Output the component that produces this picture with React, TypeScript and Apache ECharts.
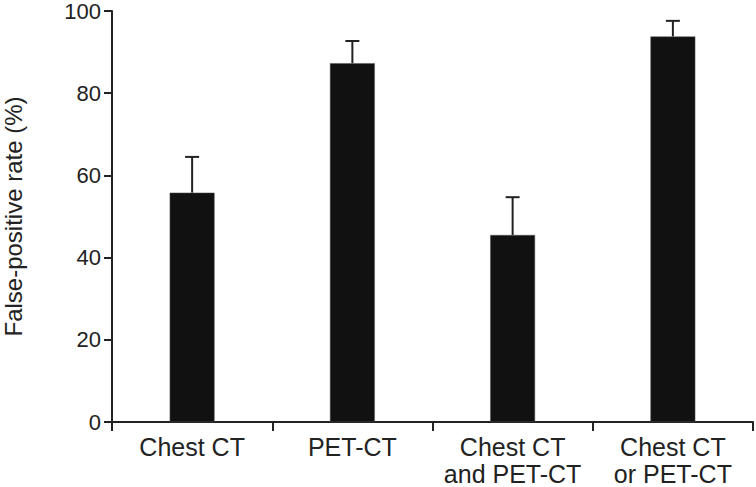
import React, { useEffect, useRef } from "react";
import * as echarts from "echarts";

const categories = ["Chest CT", "PET-CT", "Chest CT\nand PET-CT", "Chest CT\nor PET-CT"];
const rates = [55.8, 87.3, 45.5, 93.8];
const errorTops = [64.5, 92.7, 54.7, 97.6];
const yTicks = [0, 20, 40, 60, 80, 100];

export default function App() {
  const ref = useRef<HTMLDivElement>(null);
  useEffect(() => {
    if (!ref.current) return;
    const chart = echarts.init(ref.current, null, { renderer: "svg" });
    const font = "Liberation Sans, Arial, Helvetica, sans-serif";
    chart.setOption({
      animation: false,
      backgroundColor: "#fff",
      grid: { left: 112, right: 3, top: 11, bottom: 65, containLabel: false, outerBoundsMode: "none" },
      xAxis: {
        type: "category",
        data: categories,
        axisLine: { lineStyle: { color: "#222", width: 2 } },
        axisTick: { show: true, length: 9, lineStyle: { color: "#222", width: 2 } },
        axisLabel: {
          color: "#222",
          fontFamily: font,
          fontSize: 25,
          lineHeight: 27,
          margin: 11,
          interval: 0,
        },
      },
      yAxis: {
        type: "value",
        min: yTicks[0],
        max: yTicks[yTicks.length - 1],
        interval: 20,
        name: "False-positive rate (%)",
        nameLocation: "middle",
        nameGap: 87,
        nameTextStyle: { color: "#222", fontFamily: font, fontSize: 24 },
        axisLine: { show: true, lineStyle: { color: "#222", width: 2 } },
        axisTick: { show: true, length: 8, lineStyle: { color: "#222", width: 2 } },
        axisLabel: { color: "#222", fontFamily: font, fontSize: 22, margin: 11 },
        splitLine: { show: false },
      },
      series: [
        {
          type: "custom",
          z: 1,
          renderItem: (params: any, api: any) => {
            const idx = api.value(0);
            const base = api.coord([idx, api.value(1)]);
            const top = api.coord([idx, api.value(2)]);
            const x = base[0];
            const half = 7;
            return {
              type: "group",
              children: [
                {
                  type: "line",
                  shape: { x1: x, y1: base[1], x2: x, y2: top[1] },
                  style: { stroke: "#222", lineWidth: 2 },
                },
                {
                  type: "line",
                  shape: { x1: x - half, y1: top[1], x2: x + half, y2: top[1] },
                  style: { stroke: "#222", lineWidth: 2 },
                },
              ],
            };
          },
          data: rates.map((v, i) => [i, v, errorTops[i]]),
        },
        {
          type: "bar",
          z: 2,
          data: rates,
          barWidth: "28%",
          itemStyle: { color: "#111", borderColor: "#555", borderWidth: 0.5 },
        },
      ],
    });
    return () => chart.dispose();
  }, []);
  return <div ref={ref} style={{ width: 756, height: 487, position: "absolute", left: 0, top: 0 }} />;
}
